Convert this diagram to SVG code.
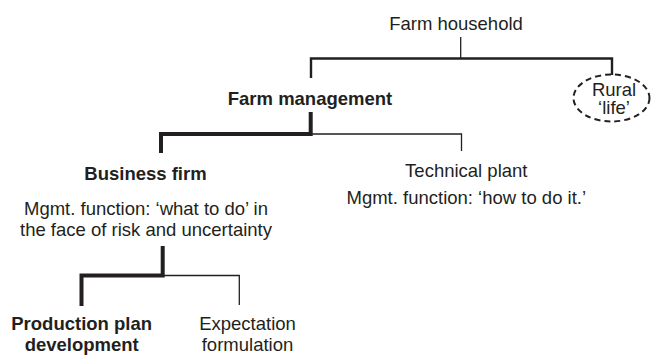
<svg xmlns="http://www.w3.org/2000/svg" width="652" height="355" viewBox="0 0 652 355">
<style>
text{font-family:"Liberation Sans",Arial,sans-serif;font-size:18.5px;fill:#231f20;text-anchor:middle}
.b{font-weight:bold}
.thin{stroke:#231f20;stroke-width:1.3;fill:none}
.med{stroke:#231f20;stroke-width:2.4;fill:none}
.thick{stroke:#231f20;stroke-width:4;fill:none}
</style>
<rect width="652" height="355" fill="#fff"/>
<g id="connectors">
<line class="thin" x1="460.7" y1="37" x2="460.7" y2="58.5"/>
<polyline class="med" points="311,78 311,58.5 612,58.5 612,75"/>
<polyline class="thick" points="161,153 161,134 310.7,134 310.7,112"/>
<polyline class="thin" points="312,134 461.5,134 461.5,151"/>
<polyline class="thick" points="81.5,306 81.5,275.5 162.7,275.5 162.7,246"/>
<polyline class="thin" points="164,275.5 239.3,275.5 239.3,305"/>
</g>
<g id="farm-household"><text x="456" y="30">Farm household</text></g>
<g id="rural-life">
<ellipse cx="611.5" cy="98" rx="38" ry="23.5" fill="none" stroke="#231f20" stroke-width="2" stroke-dasharray="6,4"/>
<text x="614" y="96">Rural</text>
<text x="614" y="113.5">‘life’</text>
</g>
<g id="farm-management"><text class="b" x="310" y="105">Farm management</text></g>
<g id="business-firm">
<text class="b" x="145.5" y="180">Business firm</text>
<text x="146" y="215">Mgmt. function: ‘what to do’ in</text>
<text x="146" y="236">the face of risk and uncertainty</text>
</g>
<g id="technical-plant">
<text x="466.3" y="176.7">Technical plant</text>
<text x="466.3" y="204">Mgmt. function: ‘how to do it.’</text>
</g>
<g id="production-plan">
<text class="b" x="81.7" y="330">Production plan</text>
<text class="b" x="81.7" y="350.5">development</text>
</g>
<g id="expectation">
<text x="247.5" y="330">Expectation</text>
<text x="247.5" y="350.5">formulation</text>
</g>
</svg>
